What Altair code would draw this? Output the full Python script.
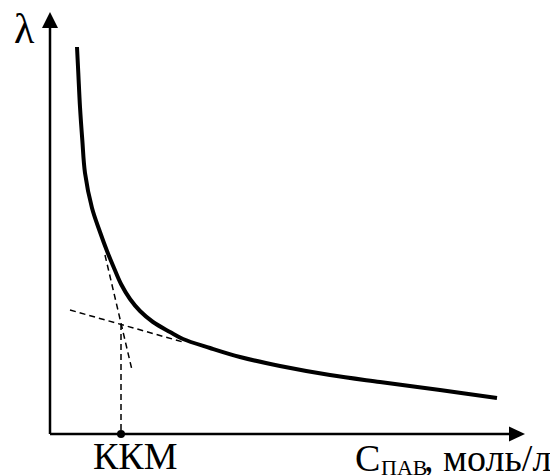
import altair as alt
import pandas as pd

# Main curve: lambda vs surfactant concentration (schematic units)
curve_c = [0.54, 0.566, 0.60, 0.646, 0.70, 0.84, 1.00, 1.14, 1.28, 1.42, 1.60, 1.80,
           2.06, 2.40, 2.66, 3.20, 3.80, 4.60, 5.60, 6.60, 7.80, 8.94]
curve_lam = [7.74, 7.22, 6.54, 5.88, 5.22, 4.52, 4.04, 3.66, 3.32, 3.00, 2.70, 2.46,
             2.24, 2.04, 1.90, 1.72, 1.54, 1.36, 1.18, 1.04, 0.88, 0.72]

# Tangent lines (dashed) and CMC drop line
steep_c = [1.10, 1.64]
steep_lam = [3.58, 1.28]
shallow_c = [0.40, 2.66]
shallow_lam = [2.48, 1.84]
cmc_c = 1.42
cmc_lam = 2.20

# Axis extents
x_axis_end = 9.3
x_arrow_tip = 9.5
y_axis_end = 8.2
y_arrow_tip = 8.44

X_DOM = [-0.84, 10.0]
Y_DOM = [-0.82, 8.52]

xs = alt.Scale(domain=X_DOM, nice=False, zero=False)
ys = alt.Scale(domain=Y_DOM, nice=False, zero=False)


def X(f="c"):
    return alt.X(f"{f}:Q", scale=xs, axis=None)


def Y(f="lam"):
    return alt.Y(f"{f}:Q", scale=ys, axis=None)


curve_df = pd.DataFrame({"c": curve_c, "lam": curve_lam})
curve = alt.Chart(curve_df).mark_line(
    color="black", strokeWidth=4, interpolate="catmull-rom", strokeCap="butt"
).encode(x=X(), y=Y())

dash_df = pd.DataFrame({
    "c": steep_c + shallow_c + [cmc_c, cmc_c],
    "lam": steep_lam + shallow_lam + [cmc_lam, 0.0],
    "seg": ["a", "a", "b", "b", "v", "v"],
})
dashes = alt.Chart(dash_df).mark_line(
    color="black", strokeWidth=1.5, strokeDash=[6, 4]
).encode(x=X(), y=Y(), detail="seg:N")

axes_df = pd.DataFrame({
    "c": [0.0, 0.0], "lam": [0.0, 0.0],
    "c2": [x_axis_end, 0.0], "lam2": [0.0, y_axis_end],
})
axes = alt.Chart(axes_df).mark_rule(color="black", strokeWidth=2.5).encode(
    x=X(), y=Y(), x2="c2:Q", y2="lam2:Q"
)

up_df = pd.DataFrame({"c": [0.0], "lam": [y_arrow_tip]})
up_arrow = alt.Chart(up_df).mark_point(
    shape="M0,0L-1,2L1,2Z", filled=True, size=256, color="black", opacity=1, strokeWidth=0
).encode(x=X(), y=Y())

right_df = pd.DataFrame({"c": [x_arrow_tip], "lam": [0.0]})
right_arrow = alt.Chart(right_df).mark_point(
    shape="M0,0L-2,-0.95L-2,0.95Z", filled=True, size=256, color="black", opacity=1, strokeWidth=0
).encode(x=X(), y=Y())

dot_df = pd.DataFrame({"c": [cmc_c], "lam": [0.0]})
dot = alt.Chart(dot_df).mark_point(
    shape="circle", filled=True, size=64, color="black", opacity=1
).encode(x=X(), y=Y())

FONT = "Liberation Serif"

lam_df = pd.DataFrame({"c": [-0.72], "lam": [7.82], "t": ["λ"]})
lam_text = alt.Chart(lam_df).mark_text(
    font=FONT, fontSize=42, align="left", baseline="alphabetic", color="black"
).encode(x=X(), y=Y(), text="t:N")

big_df = pd.DataFrame({
    "c": [0.86, 6.10, 7.48],
    "lam": [-0.70, -0.74, -0.74],
    "t": ["ККМ", "С", ", моль/л"],
})
big_text = alt.Chart(big_df).mark_text(
    font=FONT, fontSize=38, align="left", baseline="alphabetic", color="black"
).encode(x=X(), y=Y(), text="t:N")

sub_df = pd.DataFrame({"c": [6.62], "lam": [-0.82], "t": ["ПАВ"]})
sub_text = alt.Chart(sub_df).mark_text(
    font=FONT, fontSize=22, align="left", baseline="alphabetic", color="black"
).encode(x=X(), y=Y(), text="t:N")

chart = alt.layer(
    axes, up_arrow, right_arrow, dashes, curve, dot, lam_text, big_text, sub_text
).properties(
    width=542, height=467, autosize="none", padding=0
).configure_view(stroke=None)

chart.save("out.html", embed_options={"renderer": "svg", "actions": False})
